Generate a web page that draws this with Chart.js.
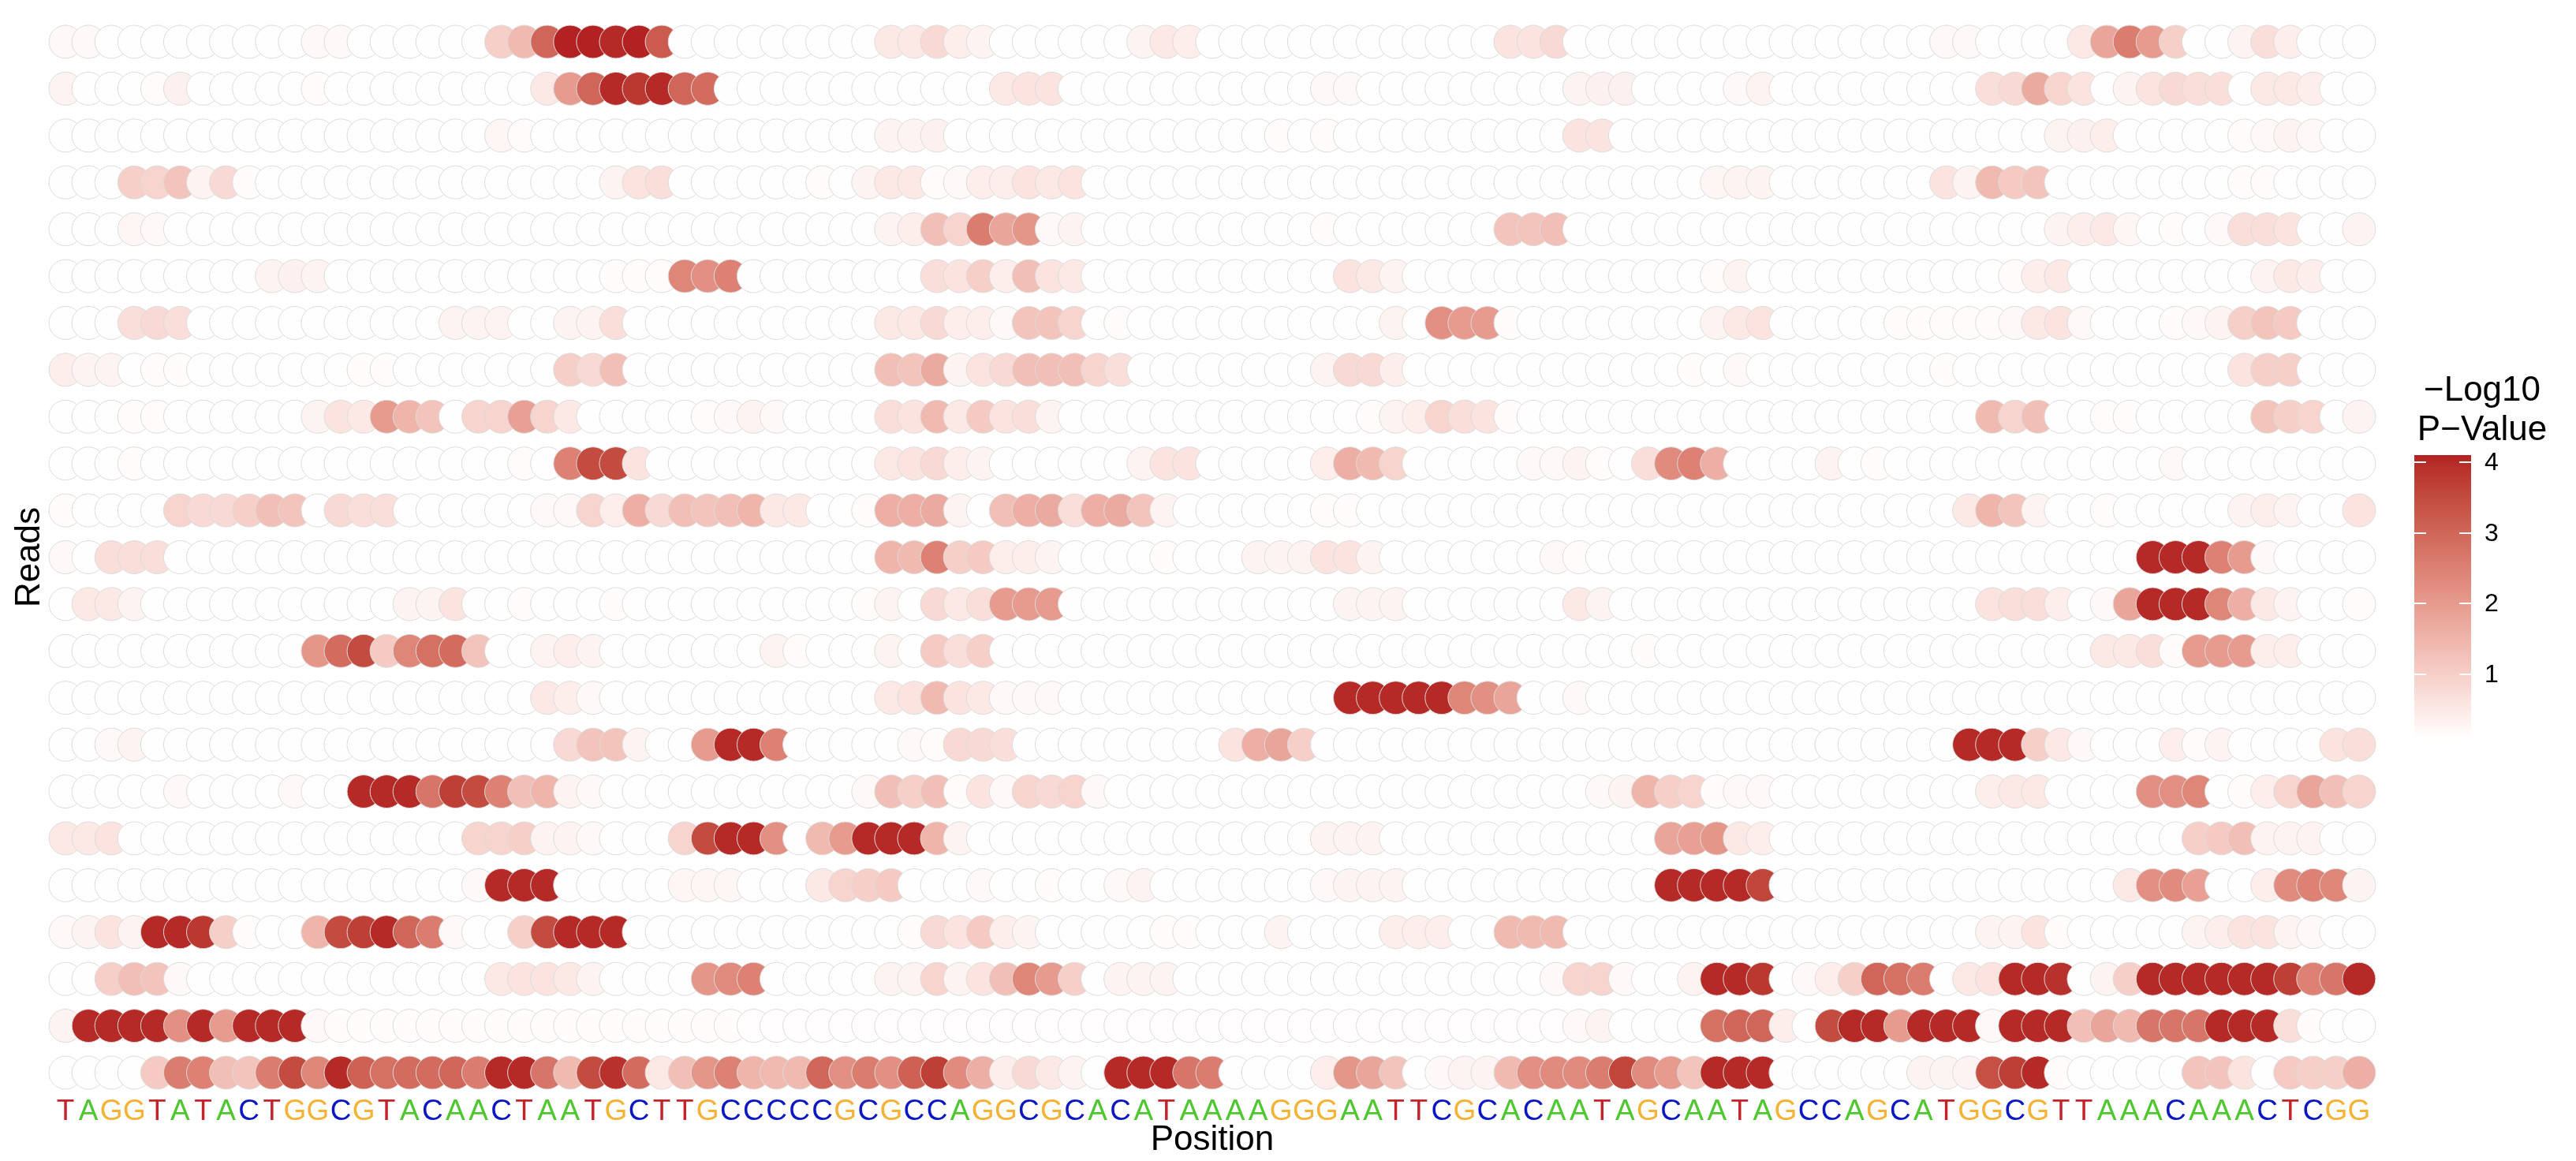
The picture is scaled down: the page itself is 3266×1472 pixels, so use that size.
<!DOCTYPE html>
<html>
<head>
<meta charset="utf-8">
<script src="https://cdn.jsdelivr.net/npm/chart.js@4.4.1/dist/chart.umd.min.js"></script>
<style>
  html, body { margin: 0; padding: 0; background: #fff; }
  canvas { display: block; }
</style>
</head>
<body>
<canvas id="readsChart" width="3266" height="1472"></canvas>
<script>
// Reference sequence (x axis tick labels)
const bases = 'TAGGTATACTGGCGTACAACTAATGCTTGCCCCCGCGCCAGGCGCACATAAAAGGGAATTCGCACAATAGCAATAGCCAGCATGGCGTTAAACAAACTCGG'.split('');
const baseColors = { A: '#4fc730', C: '#0b17c2', G: '#f5b234', T: '#c4232a' };

// -log10 p-value per position, one array per read (top to bottom)
const read01 = [0.2,0.2,0.1,0.1,0.1,0.1,0.1,0.1,0.1,0.1, 0.1,0.2,0.2,0.1,0.1,0.1,0.1,0.1,0.1,1.0, 1.4,3.0,4.1,4.1,4.0,4.1,3.2,0.1,0.1,0.1, 0.1,0.1,0.1,0.1,0.1,0.1,0.5,0.5,0.8,0.4, 0.3,0.1,0.1,0.1,0.1,0.1,0.1,0.3,0.5,0.4, 0.1,0.1,0.1,0.1,0.1,0.1,0.1,0.1,0.1,0.1, 0.1,0.1,0.1,0.6,0.6,0.8,0.1,0.1,0.1,0.1, 0.1,0.1,0.1,0.1,0.1,0.1,0.1,0.1,0.1,0.1, 0.1,0.1,0.2,0.2,0.1,0.1,0.1,0.1,0.5,1.8, 2.6,2.0,1.0,0.1,0.1,0.3,0.7,0.4,0.1,0.1, 0.1];
const read02 = [0.3,0.1,0.1,0.1,0.15,0.35,0.1,0.1,0.1,0.1, 0.1,0.15,0.1,0.1,0.1,0.1,0.1,0.1,0.1,0.1, 0.1,0.5,2.0,3.0,4.0,3.8,4.0,3.0,2.9,0.1, 0.1,0.1,0.1,0.1,0.1,0.1,0.1,0.1,0.1,0.1, 0.1,0.5,0.6,0.6,0.1,0.1,0.1,0.1,0.1,0.1, 0.1,0.1,0.1,0.1,0.1,0.2,0.2,0.1,0.1,0.1, 0.1,0.1,0.1,0.1,0.1,0.1,0.3,0.35,0.35,0.1, 0.1,0.1,0.1,0.2,0.3,0.1,0.1,0.1,0.1,0.1, 0.1,0.1,0.1,0.1,0.7,0.8,1.7,0.9,0.6,0.1, 0.3,0.6,0.8,0.7,0.7,0.1,0.5,0.5,0.4,0.1, 0.1];
const read03 = [0.1,0.1,0.1,0.1,0.1,0.1,0.1,0.1,0.1,0.1, 0.1,0.1,0.1,0.1,0.1,0.1,0.1,0.1,0.1,0.25, 0.15,0.1,0.1,0.1,0.1,0.1,0.1,0.1,0.1,0.1, 0.1,0.1,0.1,0.1,0.1,0.1,0.3,0.3,0.35,0.1, 0.1,0.1,0.1,0.1,0.1,0.1,0.1,0.1,0.1,0.1, 0.1,0.1,0.1,0.15,0.1,0.15,0.1,0.1,0.1,0.1, 0.1,0.1,0.1,0.1,0.1,0.1,0.6,0.6,0.1,0.1, 0.1,0.1,0.1,0.1,0.1,0.1,0.1,0.1,0.1,0.1, 0.1,0.1,0.1,0.1,0.1,0.1,0.1,0.3,0.35,0.4, 0.1,0.1,0.1,0.1,0.1,0.15,0.2,0.3,0.2,0.1, 0.1];
const read04 = [0.1,0.1,0.1,1.0,0.9,1.2,0.3,0.8,0.15,0.1, 0.1,0.1,0.1,0.1,0.1,0.1,0.1,0.1,0.1,0.1, 0.1,0.1,0.1,0.1,0.3,0.6,0.7,0.1,0.1,0.1, 0.1,0.1,0.1,0.15,0.1,0.3,0.5,0.5,0.15,0.2, 0.4,0.4,0.6,0.5,0.6,0.1,0.1,0.1,0.1,0.1, 0.1,0.1,0.1,0.1,0.1,0.1,0.1,0.1,0.1,0.1, 0.1,0.1,0.1,0.1,0.1,0.1,0.1,0.1,0.1,0.1, 0.1,0.1,0.25,0.3,0.3,0.1,0.1,0.1,0.1,0.1, 0.1,0.1,0.6,0.3,1.4,1.1,1.2,0.1,0.1,0.1, 0.1,0.1,0.1,0.1,0.1,0.15,0.15,0.1,0.1,0.1, 0.1];
const read05 = [0.1,0.1,0.1,0.25,0.2,0.1,0.1,0.1,0.1,0.1, 0.1,0.1,0.1,0.1,0.1,0.1,0.1,0.1,0.1,0.1, 0.1,0.1,0.1,0.1,0.1,0.1,0.1,0.1,0.1,0.1, 0.1,0.1,0.1,0.1,0.1,0.1,0.3,0.4,1.3,0.9, 2.6,1.8,2.1,0.2,0.3,0.1,0.1,0.1,0.1,0.1, 0.1,0.1,0.1,0.1,0.1,0.15,0.1,0.1,0.1,0.1, 0.1,0.1,0.1,1.2,1.2,1.3,0.1,0.1,0.1,0.1, 0.1,0.1,0.1,0.1,0.1,0.1,0.1,0.1,0.1,0.1, 0.1,0.1,0.1,0.1,0.1,0.1,0.1,0.3,0.4,0.5, 0.25,0.1,0.15,0.1,0.2,0.7,0.7,0.6,0.1,0.1, 0.3];
const read06 = [0.1,0.1,0.1,0.1,0.1,0.1,0.1,0.1,0.1,0.3, 0.35,0.3,0.1,0.1,0.1,0.1,0.1,0.1,0.1,0.1, 0.1,0.1,0.1,0.1,0.15,0.15,0.15,2.4,2.2,2.5, 0.1,0.1,0.1,0.1,0.1,0.1,0.1,0.1,0.7,0.6, 1.0,0.4,1.3,0.6,0.5,0.1,0.1,0.1,0.1,0.1, 0.1,0.1,0.1,0.1,0.1,0.1,0.6,0.5,0.3,0.1, 0.1,0.1,0.1,0.1,0.1,0.1,0.1,0.1,0.1,0.1, 0.1,0.1,0.15,0.3,0.1,0.1,0.1,0.1,0.1,0.1, 0.1,0.1,0.1,0.1,0.1,0.15,0.4,0.5,0.1,0.1, 0.1,0.1,0.1,0.1,0.1,0.1,0.3,0.5,0.4,0.1, 0.1];
const read07 = [0.1,0.1,0.1,0.7,0.8,0.7,0.1,0.1,0.1,0.1, 0.1,0.1,0.1,0.1,0.1,0.1,0.1,0.3,0.3,0.3, 0.1,0.1,0.3,0.3,0.7,0.1,0.1,0.1,0.1,0.1, 0.1,0.1,0.1,0.1,0.1,0.1,0.5,0.5,0.8,0.4, 0.4,0.2,1.2,1.2,0.9,0.1,0.15,0.1,0.1,0.1, 0.1,0.1,0.1,0.1,0.1,0.1,0.1,0.1,0.3,0.1, 2.2,2.0,2.0,0.15,0.1,0.1,0.1,0.1,0.1,0.1, 0.1,0.1,0.3,0.5,0.6,0.1,0.1,0.1,0.1,0.1, 0.15,0.15,0.15,0.15,0.15,0.2,0.5,0.6,0.2,0.1, 0.1,0.1,0.15,0.2,0.3,1.0,1.2,1.1,0.1,0.1, 0.1];
const read08 = [0.4,0.3,0.3,0.1,0.15,0.15,0.1,0.1,0.1,0.1, 0.1,0.1,0.1,0.15,0.15,0.1,0.1,0.1,0.1,0.1, 0.1,0.1,1.0,0.8,1.3,0.1,0.1,0.1,0.1,0.1, 0.1,0.1,0.1,0.1,0.1,0.1,1.3,1.2,1.7,0.3, 0.6,0.8,1.3,1.3,1.3,0.9,0.7,0.1,0.1,0.1, 0.1,0.1,0.1,0.1,0.1,0.3,0.8,0.8,0.4,0.1, 0.1,0.1,0.1,0.1,0.1,0.1,0.1,0.1,0.1,0.1, 0.1,0.15,0.1,0.2,0.1,0.1,0.1,0.1,0.1,0.1, 0.1,0.1,0.15,0.1,0.1,0.1,0.1,0.1,0.1,0.1, 0.1,0.1,0.1,0.1,0.1,0.6,1.0,1.0,0.1,0.1, 0.1];
const read09 = [0.1,0.1,0.1,0.15,0.15,0.1,0.1,0.1,0.1,0.1, 0.1,0.3,0.6,0.5,2.0,1.5,1.2,0.1,0.9,0.9, 1.9,0.9,0.5,0.1,0.1,0.1,0.1,0.1,0.15,0.2, 0.3,0.2,0.1,0.1,0.1,0.1,0.7,0.6,1.4,0.5, 1.1,0.6,0.7,0.3,0.1,0.1,0.1,0.1,0.1,0.1, 0.1,0.1,0.1,0.1,0.1,0.1,0.1,0.15,0.3,0.4, 0.9,0.7,0.6,0.15,0.1,0.1,0.1,0.1,0.1,0.1, 0.1,0.1,0.1,0.1,0.1,0.1,0.1,0.1,0.1,0.1, 0.1,0.1,0.1,0.1,1.4,0.9,1.3,0.1,0.1,0.15, 0.15,0.1,0.1,0.1,0.1,0.1,1.2,1.0,0.9,0.1, 0.3];
const read10 = [0.1,0.1,0.1,0.15,0.1,0.1,0.1,0.1,0.1,0.1, 0.1,0.1,0.1,0.1,0.1,0.1,0.1,0.1,0.1,0.1, 0.15,0.1,2.5,3.5,3.5,0.6,0.1,0.1,0.1,0.1, 0.1,0.1,0.1,0.1,0.1,0.1,0.5,0.6,0.8,0.4, 0.3,0.1,0.1,0.1,0.1,0.1,0.1,0.3,0.6,0.6, 0.1,0.1,0.1,0.1,0.1,0.4,1.6,1.4,0.9,0.1, 0.1,0.1,0.1,0.1,0.2,0.2,0.3,0.15,0.1,0.7, 2.3,2.5,1.6,0.1,0.1,0.1,0.1,0.3,0.1,0.15, 0.1,0.1,0.1,0.1,0.1,0.1,0.1,0.1,0.1,0.1, 0.1,0.1,0.2,0.1,0.1,0.1,0.1,0.1,0.1,0.1, 0.1];
const read11 = [0.15,0.1,0.1,0.1,0.1,0.9,0.8,0.8,1.0,1.3, 1.2,0.1,0.8,0.7,0.7,0.1,0.1,0.1,0.1,0.1, 0.1,0.2,0.2,0.9,0.4,1.6,0.8,1.3,1.2,1.3, 1.5,0.5,0.5,0.1,0.1,0.15,1.6,1.6,1.7,0.3, 0.1,1.3,1.6,1.7,0.7,1.6,1.7,1.2,0.3,0.1, 0.1,0.1,0.1,0.1,0.1,0.15,0.15,0.1,0.1,0.1, 0.1,0.1,0.1,0.1,0.1,0.1,0.1,0.1,0.1,0.1, 0.1,0.1,0.1,0.1,0.1,0.1,0.1,0.1,0.1,0.1, 0.1,0.1,0.1,0.5,1.5,1.2,0.3,0.1,0.1,0.15, 0.1,0.1,0.1,0.1,0.1,0.3,0.4,0.3,0.1,0.1, 0.6];
const read12 = [0.2,0.1,0.7,0.7,0.7,0.1,0.1,0.1,0.1,0.1, 0.1,0.1,0.1,0.1,0.1,0.1,0.1,0.1,0.1,0.1, 0.1,0.1,0.1,0.1,0.1,0.1,0.1,0.1,0.1,0.1, 0.1,0.1,0.1,0.1,0.1,0.1,1.5,1.4,2.5,1.0, 1.1,0.4,0.4,0.3,0.1,0.1,0.1,0.1,0.15,0.1, 0.1,0.1,0.3,0.3,0.3,0.6,0.6,0.3,0.1,0.1, 0.1,0.1,0.1,0.1,0.1,0.2,0.15,0.1,0.1,0.1, 0.1,0.1,0.1,0.1,0.1,0.1,0.1,0.1,0.1,0.1, 0.1,0.1,0.1,0.1,0.1,0.1,0.1,0.1,0.1,0.1, 0.1,4.0,4.0,4.0,2.5,2.0,0.2,0.1,0.1,0.1, 0.1];
const read13 = [0.1,0.5,0.5,0.3,0.1,0.1,0.1,0.1,0.1,0.1, 0.1,0.1,0.1,0.1,0.1,0.3,0.3,0.6,0.1,0.1, 0.15,0.1,0.1,0.1,0.15,0.1,0.1,0.1,0.1,0.1, 0.1,0.1,0.1,0.1,0.1,0.15,0.3,0.1,0.8,0.5, 0.7,2.0,2.0,2.0,0.1,0.1,0.1,0.1,0.1,0.1, 0.1,0.1,0.1,0.1,0.1,0.1,0.3,0.3,0.3,0.1, 0.1,0.1,0.1,0.1,0.1,0.1,0.5,0.3,0.1,0.1, 0.1,0.1,0.1,0.1,0.1,0.1,0.1,0.1,0.1,0.1, 0.1,0.1,0.1,0.1,0.6,0.7,0.7,0.4,0.1,0.2, 1.8,4.0,4.0,4.0,2.4,1.6,0.5,0.3,0.1,0.1, 0.15];
const read14 = [0.1,0.1,0.1,0.1,0.1,0.1,0.1,0.1,0.1,0.1, 0.1,2.1,2.9,3.5,1.1,2.4,2.8,2.9,1.2,0.1, 0.1,0.3,0.4,0.3,0.1,0.1,0.1,0.1,0.1,0.1, 0.1,0.3,0.15,0.1,0.1,0.1,0.3,0.1,1.1,0.7, 1.0,0.1,0.1,0.1,0.1,0.1,0.1,0.1,0.1,0.1, 0.1,0.1,0.1,0.1,0.1,0.1,0.1,0.1,0.1,0.1, 0.1,0.1,0.1,0.1,0.1,0.1,0.1,0.1,0.1,0.15, 0.1,0.1,0.1,0.1,0.1,0.1,0.1,0.1,0.1,0.1, 0.1,0.1,0.1,0.1,0.1,0.1,0.1,0.1,0.1,0.5, 0.5,0.7,0.15,2.0,2.0,2.0,0.4,0.4,0.1,0.1, 0.1];
const read15 = [0.1,0.1,0.1,0.1,0.1,0.1,0.1,0.1,0.1,0.1, 0.1,0.1,0.1,0.1,0.1,0.1,0.1,0.1,0.1,0.1, 0.1,0.5,0.4,0.2,0.1,0.1,0.1,0.1,0.1,0.1, 0.1,0.1,0.1,0.1,0.1,0.1,0.5,0.6,1.4,0.6, 0.5,0.2,0.2,0.2,0.1,0.1,0.1,0.1,0.1,0.1, 0.1,0.1,0.1,0.1,0.1,0.1,4.0,4.0,4.0,4.0, 4.0,2.4,2.2,1.8,0.1,0.1,0.2,0.1,0.1,0.1, 0.1,0.1,0.1,0.1,0.1,0.1,0.1,0.1,0.1,0.1, 0.1,0.1,0.1,0.1,0.1,0.1,0.1,0.1,0.1,0.1, 0.1,0.1,0.1,0.1,0.1,0.1,0.1,0.1,0.1,0.1, 0.1];
const read16 = [0.1,0.1,0.2,0.3,0.1,0.1,0.1,0.1,0.1,0.1, 0.1,0.1,0.1,0.1,0.1,0.1,0.1,0.1,0.1,0.1, 0.1,0.1,0.8,1.2,1.2,0.3,0.1,0.1,2.0,4.0, 4.0,2.5,0.1,0.1,0.1,0.1,0.1,0.2,0.15,0.8, 0.8,0.7,0.1,0.1,0.1,0.1,0.1,0.1,0.1,0.1, 0.1,0.6,1.6,1.8,1.0,0.1,0.1,0.1,0.1,0.1, 0.1,0.1,0.1,0.1,0.1,0.1,0.1,0.1,0.1,0.1, 0.1,0.1,0.1,0.1,0.1,0.1,0.1,0.1,0.1,0.1, 0.1,0.1,0.1,4.0,4.0,4.0,1.0,0.5,0.2,0.1, 0.1,0.1,0.4,0.15,0.3,0.1,0.1,0.1,0.1,0.6, 0.7];
const read17 = [0.1,0.1,0.1,0.1,0.1,0.2,0.1,0.1,0.1,0.1, 0.2,0.1,0.1,4.0,4.0,4.0,2.7,3.7,3.5,2.5, 1.3,1.5,0.3,0.2,0.1,0.1,0.1,0.1,0.1,0.1, 0.1,0.1,0.1,0.1,0.1,0.2,1.3,1.0,1.3,0.15, 0.6,0.2,0.9,0.8,0.9,0.2,0.1,0.1,0.1,0.1, 0.1,0.1,0.1,0.1,0.1,0.1,0.1,0.1,0.1,0.1, 0.1,0.1,0.1,0.1,0.1,0.1,0.1,0.2,0.3,1.5, 1.0,0.9,0.15,0.2,0.2,0.1,0.1,0.1,0.1,0.1, 0.1,0.1,0.1,0.1,0.4,0.5,0.5,0.1,0.1,0.1, 0.1,2.2,2.2,2.4,0.1,0.15,0.4,0.9,1.8,1.3, 0.9];
const read18 = [0.5,0.5,0.6,0.1,0.1,0.1,0.1,0.1,0.1,0.1, 0.1,0.1,0.1,0.1,0.1,0.1,0.1,0.1,0.9,0.9, 1.0,0.3,0.3,0.2,0.1,0.1,0.1,0.9,3.5,4.0, 4.0,2.2,0.1,1.4,2.0,4.0,4.0,4.0,1.5,0.3, 0.1,0.1,0.1,0.1,0.1,0.1,0.1,0.1,0.1,0.1, 0.1,0.1,0.1,0.1,0.1,0.3,0.3,0.3,0.1,0.1, 0.1,0.1,0.1,0.1,0.1,0.1,0.1,0.1,0.1,0.1, 1.8,1.9,2.1,0.5,0.4,0.1,0.1,0.1,0.1,0.1, 0.1,0.1,0.1,0.1,0.1,0.1,0.1,0.1,0.1,0.1, 0.1,0.1,0.1,1.0,1.1,1.3,0.3,0.3,0.3,0.1, 0.1];
const read19 = [0.1,0.1,0.1,0.1,0.1,0.1,0.1,0.1,0.1,0.1, 0.1,0.1,0.1,0.1,0.1,0.1,0.1,0.1,0.2,4.0, 4.0,4.0,0.1,0.1,0.1,0.1,0.1,0.25,0.25,0.25, 0.1,0.1,0.1,0.5,0.9,1.0,1.1,0.1,0.1,0.1, 0.2,0.1,0.1,0.15,0.1,0.1,0.2,0.3,0.1,0.1, 0.1,0.1,0.1,0.1,0.1,0.2,0.3,0.3,0.3,0.1, 0.1,0.1,0.1,0.1,0.1,0.1,0.1,0.1,0.1,0.1, 4.0,4.0,4.0,4.0,3.6,0.1,0.1,0.1,0.1,0.1, 0.1,0.1,0.1,0.1,0.1,0.1,0.1,0.1,0.1,0.1, 0.5,2.2,2.3,1.9,0.1,0.1,0.4,2.3,2.5,2.4, 0.3];
const read20 = [0.2,0.3,0.6,0.3,4.0,4.0,3.8,1.0,0.15,0.1, 0.1,1.5,3.5,3.7,4.0,3.0,2.6,0.2,0.1,0.1, 1.0,3.5,4.0,4.0,4.0,0.1,0.1,0.1,0.1,0.1, 0.1,0.1,0.1,0.1,0.1,0.1,0.1,0.15,0.8,0.6, 1.1,0.4,0.3,0.1,0.1,0.1,0.1,0.1,0.15,0.15, 0.1,0.1,0.1,0.3,0.1,0.1,0.1,0.1,0.4,0.4, 0.4,0.1,0.1,1.4,1.4,1.4,0.1,0.1,0.1,0.1, 0.1,0.1,0.1,0.1,0.1,0.1,0.1,0.1,0.1,0.1, 0.1,0.1,0.1,0.1,0.3,0.3,0.6,0.15,0.1,0.1, 0.1,0.1,0.1,0.3,0.4,0.6,0.6,0.3,0.2,0.1, 0.1];
const read21 = [0.1,0.1,1.0,1.3,1.2,0.2,0.1,0.1,0.1,0.1, 0.1,0.1,0.1,0.1,0.1,0.1,0.1,0.1,0.1,0.5, 0.6,0.6,0.5,0.3,0.1,0.1,0.1,0.1,2.1,2.3, 2.5,0.1,0.1,0.1,0.1,0.1,0.3,0.3,0.9,0.3, 0.6,1.3,2.4,2.0,1.0,0.1,0.3,0.3,0.3,0.1, 0.1,0.1,0.1,0.1,0.1,0.1,0.1,0.1,0.1,0.1, 0.1,0.1,0.1,0.1,0.1,0.2,0.9,0.9,0.2,0.1, 0.1,0.3,4.0,4.0,3.8,0.1,0.2,0.4,1.0,3.0, 2.8,2.6,0.1,0.5,0.6,4.0,4.0,3.9,0.1,0.3, 1.0,4.0,4.0,4.0,4.0,4.0,4.0,3.7,2.5,2.7, 4.0];
const read22 = [0.3,4.0,4.0,4.0,4.0,2.2,4.0,2.0,4.0,4.0, 4.0,0.2,0.15,0.15,0.15,0.15,0.15,0.15,0.15,0.15, 0.15,0.15,0.15,0.15,0.15,0.15,0.15,0.15,0.15,0.15, 0.12,0.12,0.12,0.12,0.12,0.12,0.12,0.12,0.12,0.12, 0.12,0.12,0.12,0.12,0.12,0.12,0.12,0.12,0.12,0.12, 0.12,0.12,0.12,0.12,0.12,0.12,0.12,0.12,0.12,0.12, 0.12,0.12,0.12,0.12,0.12,0.12,0.2,0.3,0.1,0.1, 0.1,0.1,2.8,3.0,3.0,0.4,0.1,3.5,4.0,4.0, 2.0,4.0,4.0,4.0,0.2,4.0,4.0,4.0,1.3,1.8, 1.4,2.7,2.7,2.7,4.0,4.0,4.0,0.7,0.15,0.1, 0.1];
const read23 = [0.1,0.1,0.1,0.1,1.1,2.6,2.5,1.3,1.2,2.6, 3.5,2.4,4.0,3.1,2.8,2.9,2.9,3.0,2.6,4.0, 4.0,2.7,1.4,3.5,3.9,2.9,0.5,1.3,2.1,2.5, 1.5,1.4,1.4,3.0,2.2,2.6,2.2,3.1,3.7,2.3, 1.6,0.4,0.8,0.5,0.3,0.1,4.0,4.0,4.0,2.7, 2.6,0.1,0.1,0.1,0.1,0.4,2.1,1.8,1.2,0.1, 0.2,0.3,0.3,1.4,2.2,2.3,2.3,2.6,3.6,2.3, 2.0,1.2,4.0,4.0,4.0,0.1,0.1,0.1,0.1,0.1, 0.1,0.3,0.3,0.3,3.4,3.7,4.0,0.15,0.1,0.1, 0.1,0.1,0.1,1.2,1.2,0.6,0.1,1.1,1.0,1.0, 1.6];

const reads = [read01, read02, read03, read04, read05, read06, read07, read08,
  read09, read10, read11, read12, read13, read14, read15, read16,
  read17, read18, read19, read20, read21, read22, read23];

// colour bar
const colorMin = 0.086;
const colorMax = 4.1;
const legendTicks = [1, 2, 3, 4];

// white -> firebrick, interpolated in CIELAB
function toLab(hex) {
  const c = [1, 3, 5].map(i => parseInt(hex.substr(i, 2), 16) / 255)
    .map(v => v <= 0.04045 ? v / 12.92 : Math.pow((v + 0.055) / 1.055, 2.4));
  const X = (0.4124 * c[0] + 0.3576 * c[1] + 0.1805 * c[2]) / 0.95047;
  const Y = 0.2126 * c[0] + 0.7152 * c[1] + 0.0722 * c[2];
  const Z = (0.0193 * c[0] + 0.1192 * c[1] + 0.9505 * c[2]) / 1.08883;
  const f = t => t > 0.008856 ? Math.cbrt(t) : 7.787 * t + 16 / 116;
  return [116 * f(Y) - 16, 500 * (f(X) - f(Y)), 200 * (f(Y) - f(Z))];
}
function fromLab(L, a, b) {
  const fy = (L + 16) / 116, fx = fy + a / 500, fz = fy - b / 200;
  const g = t => t * t * t > 0.008856 ? t * t * t : (t - 16 / 116) / 7.787;
  const X = g(fx) * 0.95047, Y = g(fy), Z = g(fz) * 1.08883;
  const lin = [
    3.2406 * X - 1.5372 * Y - 0.4986 * Z,
    -0.9689 * X + 1.8758 * Y + 0.0415 * Z,
    0.0557 * X - 0.2040 * Y + 1.0570 * Z
  ];
  const rgb = lin.map(v => {
    v = v <= 0.0031308 ? 12.92 * v : 1.055 * Math.pow(v, 1 / 2.4) - 0.055;
    return Math.round(Math.min(1, Math.max(0, v)) * 255);
  });
  return 'rgb(' + rgb.join(',') + ')';
}
const lowLab = toLab('#ffffff');
const highLab = toLab('#b22222');
function valueColor(v) {
  const t = Math.min(1, Math.max(0, (v - colorMin) / (colorMax - colorMin)));
  return fromLab(
    lowLab[0] + (highLab[0] - lowLab[0]) * t,
    lowLab[1] + (highLab[1] - lowLab[1]) * t,
    lowLab[2] + (highLab[2] - lowLab[2]) * t
  );
}

// points drawn row by row, left to right (later circles overlap earlier ones)
const points = [];
reads.forEach((row, r) => {
  row.forEach((v, c) => points.push({ x: c, y: r + 1, v: v }));
});

const fontFamily = "'Liberation Sans', Arial, Helvetica, sans-serif";

// gradient legend on the right
const colorBar = {
  id: 'colorBar',
  afterDraw(chart) {
    const ctx = chart.ctx;
    const x0 = chart.chartArea.right + 55.5;
    const w = 72, top = 577, bottom = 937;
    const yOf = v => top + (colorMax - v) / (colorMax - colorMin) * (bottom - top);
    ctx.save();
    for (let y = top; y < bottom; y++) {
      const v = colorMax - (y + 0.5 - top) / (bottom - top) * (colorMax - colorMin);
      ctx.fillStyle = valueColor(v);
      ctx.fillRect(x0, y, w, 1);
    }
    ctx.strokeStyle = '#ffffff';
    ctx.lineWidth = 2;
    ctx.fillStyle = '#000';
    ctx.font = '32px ' + fontFamily;
    ctx.textAlign = 'left';
    ctx.textBaseline = 'middle';
    legendTicks.forEach(t => {
      const y = Math.round(yOf(t));
      ctx.beginPath();
      ctx.moveTo(x0, y); ctx.lineTo(x0 + 15, y);
      ctx.moveTo(x0 + w - 15, y); ctx.lineTo(x0 + w, y);
      ctx.stroke();
      ctx.fillText(String(t), x0 + w + 17, y + 1);
    });
    ctx.font = '44px ' + fontFamily;
    ctx.textAlign = 'center';
    ctx.textBaseline = 'alphabetic';
    ctx.fillText('\u2212Log10', x0 + 86, 508);
    ctx.fillText('P\u2212Value', x0 + 86, 558);
    ctx.restore();
  }
};

new Chart(document.getElementById('readsChart'), {
  type: 'bubble',
  data: {
    datasets: [{
      data: points,
      radius: 21,
      borderWidth: 1,
      borderColor: '#dcdcdc',
      backgroundColor: ctx => valueColor(ctx.raw ? ctx.raw.v : 0),
      clip: false
    }]
  },
  options: {
    responsive: false,
    animation: false,
    events: [],
    layout: { padding: { top: 23.3, right: 260.5, bottom: 0, left: 0 } },
    plugins: { legend: { display: false }, tooltip: { enabled: false } },
    scales: {
      x: {
        type: 'linear',
        min: -0.5,
        max: bases.length - 0.5,
        grid: { display: false, drawTicks: false },
        border: { display: false },
        afterBuildTicks: scale => { scale.ticks = bases.map((b, i) => ({ value: i })); },
        afterFit: scale => { scale.height = 82.3; },
        ticks: {
          autoSkip: false,
          maxRotation: 0,
          minRotation: 0,
          padding: 2,
          font: { family: fontFamily, size: 37, lineHeight: 1 },
          color: ctx => baseColors[bases[ctx.tick.value]] || '#000',
          callback: v => bases[v]
        },
        title: {
          display: true,
          text: 'Position',
          color: '#000',
          padding: 0,
          font: { family: fontFamily, size: 44, lineHeight: 1.2 }
        }
      },
      y: {
        type: 'linear',
        min: 0.5,
        max: reads.length + 0.5,
        reverse: true,
        grid: { display: false, drawTicks: false },
        border: { display: false },
        ticks: { display: false },
        afterFit: scale => { scale.width = 68.5; },
        title: {
          display: true,
          text: 'Reads',
          color: '#000',
          padding: { top: 11, bottom: 0 },
          font: { family: fontFamily, size: 44, lineHeight: 1.2 }
        }
      }
    }
  },
  plugins: [colorBar]
});
</script>
</body>
</html>
